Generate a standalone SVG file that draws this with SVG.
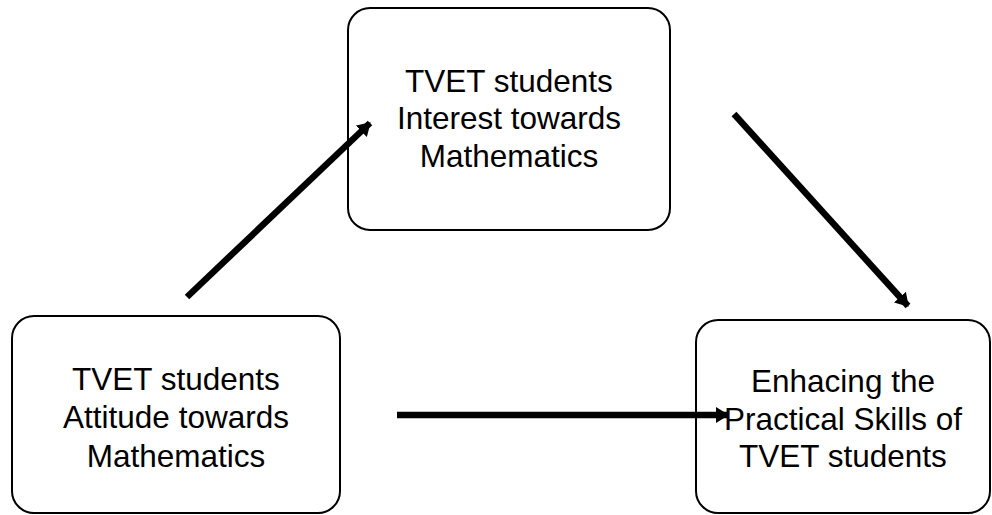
<svg xmlns="http://www.w3.org/2000/svg" width="992" height="515" viewBox="0 0 992 515">
<style>
.box{fill:#fff;stroke:#000;stroke-width:2}
.t{font-family:"Liberation Sans",Arial,sans-serif;font-size:31.5px;fill:#000;text-anchor:middle}
.c{stroke:#000;stroke-width:6.5;fill:none;marker-end:url(#ah)}
</style>
<defs>
<marker id="ah" markerUnits="userSpaceOnUse" markerWidth="14" markerHeight="16" refX="12" refY="8" orient="auto" viewBox="0 0 14 16">
<path d="M0,0 L13,8 L0,16 Z" fill="#000"/>
</marker>
</defs>
<rect width="992" height="515" fill="#fff"/>
<g id="node-interest">
<rect class="box" x="348" y="8" width="322" height="222" rx="22"/>
<text class="t" x="509" y="92">TVET students</text>
<text class="t" x="509" y="129">Interest towards</text>
<text class="t" x="509" y="167">Mathematics</text>
</g>
<g id="node-attitude">
<rect class="box" x="12" y="316" width="328" height="197" rx="22"/>
<text class="t" x="176" y="390">TVET students</text>
<text class="t" x="176" y="428">Attitude towards</text>
<text class="t" x="176" y="467">Mathematics</text>
</g>
<g id="node-skills">
<rect class="box" x="696" y="320" width="294" height="193" rx="22"/>
<text class="t" x="843" y="392">Enhacing the</text>
<text class="t" x="843" y="430">Practical Skills of</text>
<text class="t" x="843" y="467">TVET students</text>
</g>
<g id="connectors">
<line class="c" x1="187" y1="297" x2="370" y2="123"/>
<line class="c" x1="734" y1="114" x2="908" y2="306"/>
<line class="c" x1="397" y1="415" x2="728" y2="415"/>
</g>
</svg>
